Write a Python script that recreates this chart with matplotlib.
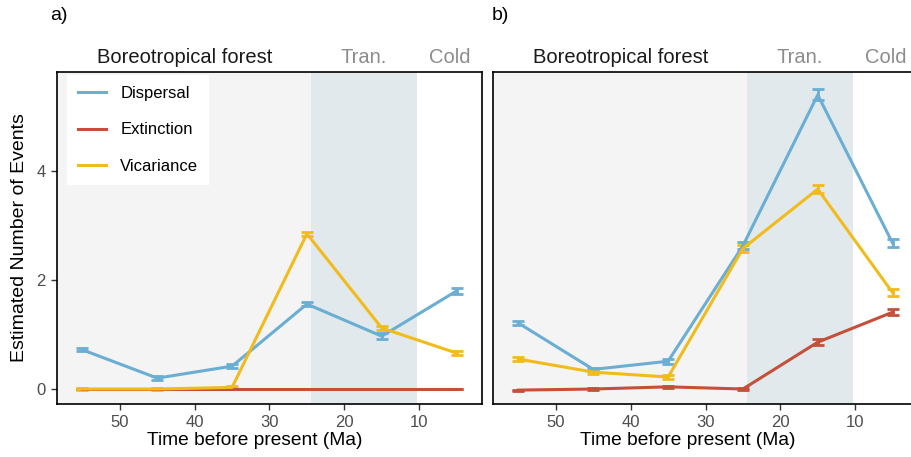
import matplotlib
matplotlib.use("Agg")
import matplotlib.pyplot as plt

plt.rcParams['font.family'] = ['Liberation Sans', 'DejaVu Sans']

# time bins (Ma)
times = [55, 45, 35, 25, 15, 5]

# panel a
disp_a = [0.72, 0.20, 0.42, 1.56, 0.97, 1.80]
disp_a_err = [0.03, 0.03, 0.04, 0.04, 0.05, 0.05]
ext_a = [0.0, 0.0, 0.0, 0.0, 0.0, 0.0]
ext_a_err = [0.0, 0.0, 0.0, 0.0, 0.0, 0.0]
vic_a = [0.0, 0.0, 0.03, 2.85, 1.12, 0.66]
vic_a_err = [0.01, 0.01, 0.02, 0.04, 0.04, 0.03]

# panel b
disp_b = [1.21, 0.36, 0.51, 2.63, 5.40, 2.68]
disp_b_err = [0.04, 0.03, 0.05, 0.06, 0.10, 0.07]
ext_b = [-0.02, 0.0, 0.04, 0.0, 0.86, 1.41]
ext_b_err = [0.01, 0.01, 0.02, 0.02, 0.05, 0.06]
vic_b = [0.55, 0.31, 0.22, 2.58, 3.67, 1.77]
vic_b_err = [0.03, 0.03, 0.03, 0.06, 0.07, 0.06]

series_names = ['Dispersal', 'Extinction', 'Vicariance']
colors = ['#6aaed3', '#c4503a', '#f2bb1c']

# climate periods
boreo = (58.4, 24.4)
tran = (24.4, 10.3)
cold_end = 1.6

fig = plt.figure(figsize=(9.11, 4.57), dpi=100)
W, H = 911, 457
ax_a = fig.add_axes([57 / W, 1 - 404 / H, (482 - 57) / W, (404 - 72) / H])
ax_b = fig.add_axes([493 / W, 1 - 404 / H, (918 - 493) / W, (404 - 72) / H])

panels = [
    (ax_a, [(disp_a, disp_a_err), (ext_a, ext_a_err), (vic_a, vic_a_err)], 0.466),
    (ax_b, [(disp_b, disp_b_err), (ext_b, ext_b_err), (vic_b, vic_b_err)], 0.459),
]

for ax, data, xl_pos in panels:
    ax.axvspan(boreo[0], boreo[1], color='#f4f4f4', lw=0, zorder=0)
    ax.axvspan(tran[0], tran[1], color='#e1e9ec', lw=0, zorder=0)
    for (vals, errs), name, c in zip(data, series_names, colors):
        ax.errorbar(times, vals, yerr=errs, color=c, lw=2.2, capsize=4.5,
                    capthick=2, elinewidth=2, label=name)
    ax.set_xlim(58.4, cold_end)
    ax.set_ylim(-0.275, 5.82)
    ax.set_xticks([50, 40, 30, 20, 10])
    ax.set_yticks([0, 2, 4])
    ax.tick_params(labelsize=12, labelcolor='#4d4d4d', length=4, width=1,
                   color='#333333', pad=4)
    for s in ax.spines.values():
        s.set_linewidth(1.2)
    ax.set_xlabel('Time before present (Ma)', fontsize=13.8)
    ax.xaxis.set_label_coords(xl_pos, -0.085)
    # period labels above panel
    tr = ax.get_xaxis_transform()
    ax.text((boreo[0] + boreo[1]) / 2, 1.015, 'Boreotropical forest',
            transform=tr, ha='center', va='bottom', fontsize=14.5,
            color='#1a1a1a')
    ax.text((tran[0] + tran[1]) / 2, 1.015, 'Tran.', transform=tr,
            ha='center', va='bottom', fontsize=14.5, color='#8c8c8c')
    ax.text((tran[1] + cold_end) / 2, 1.015, 'Cold', transform=tr,
            ha='center', va='bottom', fontsize=14.5, color='#8c8c8c')

ax_a.set_ylabel('Estimated Number of Events', fontsize=14, labelpad=6)
ax_b.tick_params(axis='y', labelleft=False, left=False)

fig.text(50 / W, 1 - 16 / H, 'a)', fontsize=14, va='center')
fig.text(492 / W, 1 - 16 / H, 'b)', fontsize=14, va='center')

hl = [plt.Line2D([], [], color=c, lw=2.2) for c in colors]
leg = ax_a.legend(hl, series_names, loc='upper left', frameon=True,
                  bbox_to_anchor=(10 / 425, 1 - 3 / 332), borderaxespad=0,
                  fontsize=12, handlelength=1.7, labelspacing=1.3,
                  borderpad=0.65, handletextpad=0.85)
leg.get_frame().set_edgecolor('none')
leg.get_frame().set_facecolor('white')
leg.get_frame().set_alpha(1)
leg.get_frame().set_boxstyle('square', pad=0)

fig.savefig('out.png', dpi=100)
